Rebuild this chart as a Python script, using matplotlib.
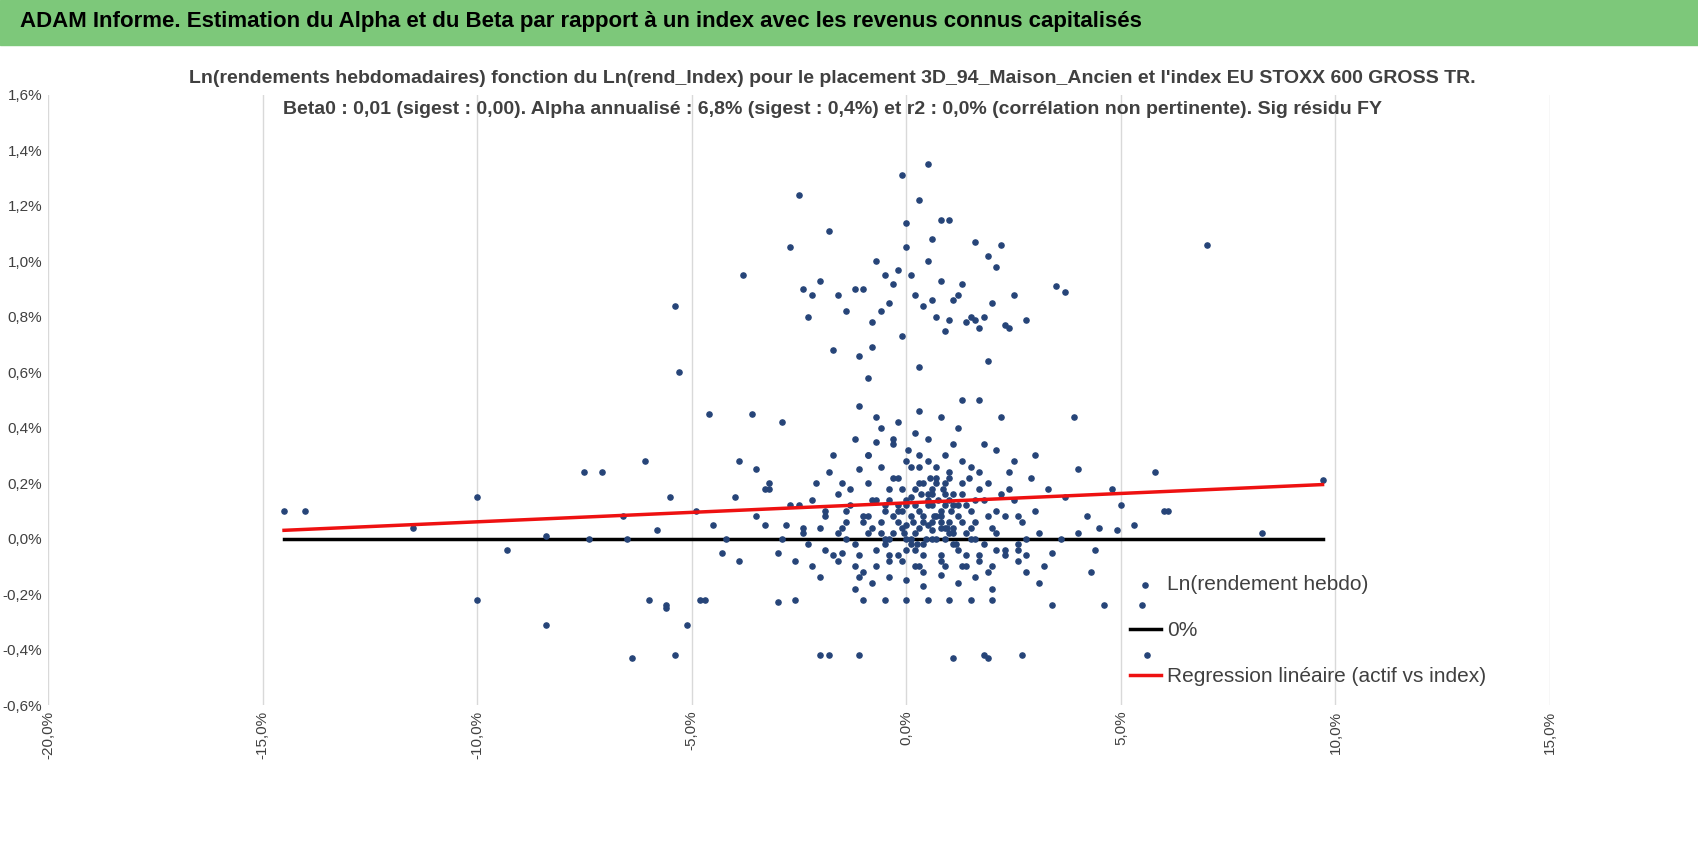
import numpy as np
import matplotlib.pyplot as plt
from matplotlib.patches import Rectangle

plt.rcParams['font.family'] = ['Liberation Sans', 'DejaVu Sans']

# outlying points (x: index return %, y: asset return %)
out_x = [-14.5, -14.0, -11.5, -10.0, -10.0, -9.3, -8.4, -8.4, -7.5, -7.1, -7.4, -6.6, -6.5, -6.4, -6.1,
         -6.0, -5.8, -5.6, -5.6, -5.5, -5.4, -5.3, -5.4, -5.1, -4.9, -4.8, -4.7, -4.6, -4.5, -4.2,
         -4.0, -3.9, -3.8, -3.6, -3.5, -3.2, -3.0, -2.9, -2.7, -2.5, -2.4, -2.3, -2.2, -2.0, -1.8,
         -1.7, -1.6, -1.4, -1.2, -1.1, -1.0, -0.9, -0.8, -0.7, -0.5, -0.1, 0.0, 0.3, 0.5, 0.8,
         1.0, 1.6, 1.9, 2.2, 2.0, 2.5, 2.8, 3.5, 3.7, 3.9, 5.8, 7.0, 8.3, 9.7, 6.1,
         5.3, -1.8, -2.0, -1.1, 1.1, 1.8, 1.9, 2.7, 5.6, 4.6, 5.5, 3.4, 4.3, 4.8, 5.0,
         3.2, 4.0, 4.5, -3.3, -3.9, -2.6, 6.0, 4.9, 3.0, -4.3]
out_y = [0.10, 0.10, 0.04, 0.15, -0.22, -0.04, 0.01, -0.31, 0.24, 0.24, 0.00, 0.08, 0.00, -0.43, 0.28,
         -0.22, 0.03, -0.24, -0.25, 0.15, 0.84, 0.60, -0.42, -0.31, 0.10, -0.22, -0.22, 0.45, 0.05, 0.00,
         0.15, 0.28, 0.95, 0.45, 0.25, 0.20, -0.23, 0.42, 1.05, 1.24, 0.90, 0.80, 0.88, 0.93, 1.11,
         0.68, 0.88, 0.82, 0.90, 0.66, 0.90, 0.58, 0.69, 1.00, 0.95, 1.31, 1.14, 1.22, 1.35, 1.15,
         1.15, 1.07, 1.02, 1.06, 0.85, 0.88, 0.79, 0.91, 0.89, 0.44, 0.24, 1.06, 0.02, 0.21, 0.10,
         0.05, -0.42, -0.42, -0.42, -0.43, -0.42, -0.43, -0.42, -0.42, -0.24, -0.24, -0.24, -0.12, 0.18, 0.12,
         -0.10, 0.25, 0.04, 0.05, -0.08, -0.22, 0.10, 0.03, 0.30, -0.05]

# upper band around 0.8-1.0 %
band_x = [-0.6, -0.4, -0.2, 0.1, 0.2, 0.4, 0.6, 0.7, 0.9, 1.2, 1.4, 1.5, 1.7, 2.3, -0.3, 0.0,
          0.5, 1.1, 1.3, 1.8, 2.1, -0.8, 0.3, 0.8, 1.6, 2.4, -0.1, 0.6, 1.0, 1.9]
band_y = [0.82, 0.85, 0.97, 0.95, 0.88, 0.84, 0.86, 0.80, 0.75, 0.88, 0.78, 0.80, 0.76, 0.77, 0.92, 1.05,
          1.00, 0.86, 0.92, 0.80, 0.98, 0.78, 0.62, 0.93, 0.79, 0.76, 0.73, 1.08, 0.79, 0.64]

# dense central cluster
core_x = [-2.8, -2.5, -2.3, -2.1, -1.9, -1.7, -1.5, -1.3, -1.1, -0.9, -0.7, -0.5, -0.3, -0.1, 0.1, 0.3,
          0.5, 0.7, 0.9, 1.1, 1.3, 1.5, 1.7, 1.9, 2.1, 2.3, 2.5, 2.7, 2.9, 3.1,
          -2.6, -2.2, -1.8, -1.4, -1.0, -0.6, -0.2, 0.2, 0.6, 1.0, 1.4, 1.8, 2.2, 2.6, 3.0,
          -2.4, -2.0, -1.6, -1.2, -0.8, -0.4, 0.0, 0.4, 0.8, 1.2, 1.6, 2.0, 2.4, 2.8,
          -1.9, -1.5, -1.1, -0.7, -0.3, 0.1, 0.5, 0.9, 1.3, 1.7, 2.1, 2.5,
          -1.3, -0.9, -0.5, -0.1, 0.3, 0.7, 1.1, 1.5, 1.9, -0.6, -0.2, 0.2, 0.6, 1.0, 1.4,
          -0.4, 0.0, 0.4, 0.8, 1.2, -3.5, -3.2, -3.0, -2.7, 3.4, 3.7, 4.0, 4.2, 3.3,
          -1.2, -0.8, -0.4, 0.0, 0.4, 0.8, 1.2, 1.6, 2.0, -1.0, -0.5, 0.0, 0.5, 1.0, 1.5, 2.0,
          -2.2, -1.7, -1.2, -0.7, -0.2, 0.3, 0.8, 1.3, 1.8, 2.3, 2.8, -0.9, -0.3, 0.3, 0.9, 1.5,
          -1.6, -1.0, -0.4, 0.2, 0.8, 1.4, 2.0, 2.6, -0.1, 0.4, 0.9, 0.6, 0.2, 0.7, 1.1, -0.5,
          -2.9, -2.4, -1.9, -1.4, -0.9, -0.4, 0.1, 0.6, 1.1, 1.6, 2.1, 2.6, 3.1, 3.6, -3.3, 4.4,
          -0.7, -0.2, 0.3, 0.8, 1.3, -1.1, -0.6, 1.7, 2.2, 0.0, 0.5, 1.0]
core_y = [0.05, 0.12, -0.02, 0.20, 0.08, 0.30, -0.05, 0.18, 0.25, 0.02, 0.35, 0.10, 0.22, -0.08, 0.15, 0.30,
          0.05, 0.20, -0.10, 0.12, 0.28, 0.00, 0.18, 0.08, 0.32, -0.04, 0.14, 0.06, 0.22, 0.02,
          -0.08, 0.14, 0.24, 0.10, -0.12, 0.26, 0.06, 0.38, 0.12, 0.22, -0.06, 0.34, 0.16, -0.02, 0.10,
          0.02, -0.14, 0.16, 0.36, 0.04, 0.18, 0.28, -0.02, 0.08, 0.40, 0.14, -0.10, 0.24, 0.00,
          0.10, 0.04, -0.06, 0.14, 0.02, 0.08, 0.12, 0.20, 0.06, -0.08, 0.10, 0.28,
          0.12, 0.20, -0.02, 0.04, 0.10, 0.00, 0.16, 0.04, 0.20, 0.06, 0.12, -0.04, 0.06, 0.02, 0.12,
          0.14, 0.00, 0.20, 0.04, 0.08, 0.08, 0.18, -0.05, 0.12, -0.05, 0.15, 0.02, 0.08, 0.18,
          -0.18, -0.16, -0.14, -0.15, -0.17, -0.13, -0.16, -0.14, -0.18, -0.22, -0.22, -0.22, -0.22, -0.22, -0.22, -0.22,
          -0.10, -0.06, -0.02, -0.10, -0.06, -0.10, -0.06, -0.10, -0.02, -0.06, -0.12, 0.30, 0.34, 0.26, 0.30, 0.26,
          0.02, 0.06, 0.00, 0.02, 0.06, 0.02, 0.04, 0.08, 0.10, 0.06, 0.04, 0.16, 0.18, 0.08, 0.04, 0.00,
          0.00, 0.04, -0.04, 0.00, 0.08, -0.06, -0.02, 0.00, -0.02, 0.00, -0.04, -0.08, -0.16, 0.00, 0.18, -0.04,
          0.44, 0.42, 0.46, 0.44, 0.50, 0.48, 0.40, 0.50, 0.44, 0.12, 0.16, 0.14]

# second layer of the dense cluster (heart around 0,5% / 0,07%)
heart_x = [-0.2, 0.0, 0.2, 0.4, 0.6, 0.8, 1.0, 1.2, -0.1, 0.1, 0.3, 0.5, 0.7, 0.9, 1.1, 1.3,
           -0.3, 0.0, 0.3, 0.6, 0.9, 1.2, 1.5, -0.5, -0.2, 0.1, 0.4, 0.7, 1.0, 1.3, 1.6,
           -0.8, -0.4, 0.2, 0.5, 0.8, 1.4, 1.8, -1.0, -0.6, 0.0, 0.4, 0.9, 1.7, 2.1, -1.4, -0.7,
           0.15, 0.45, 0.75, 1.05, 0.35, 0.65, 0.95, 0.25, 0.55, 0.85, -0.05, 1.15, 1.45, 0.05,
           -1.6, -1.2, -0.9, 1.9, 2.3, 2.6, -2.0, -1.5, 2.4, 2.8, -0.3, 0.5, 1.1, 1.7, -1.1]
heart_y = [0.10, 0.05, 0.12, 0.08, 0.03, 0.10, 0.06, 0.12, 0.18, 0.00, 0.20, 0.14, 0.22, 0.16, 0.02, 0.20,
           0.08, -0.04, 0.04, 0.18, 0.00, -0.04, 0.10, 0.12, 0.22, 0.26, -0.06, 0.26, 0.24, 0.16, 0.06,
           0.14, -0.08, -0.10, 0.28, -0.08, -0.10, 0.14, 0.08, 0.02, 0.14, -0.12, 0.12, 0.24, 0.02, 0.06, -0.04,
           0.06, 0.00, 0.14, 0.10, 0.16, 0.08, 0.04, -0.02, 0.22, 0.18, 0.02, -0.02, 0.22, 0.32,
           -0.08, -0.10, 0.30, -0.12, 0.08, -0.04, 0.04, 0.20, 0.18, -0.06, 0.36, 0.36, 0.34, -0.06, -0.14]

pts_x = np.array(out_x + band_x + core_x + heart_x) / 100
pts_y = np.array(out_y + band_y + core_y + heart_y) / 100

reg_x = [-0.145, 0.097]
reg_y = [0.0003, 0.00195]

fig = plt.figure(figsize=(16.98, 8.55), dpi=100)
fig.patches.append(Rectangle((0, 1 - 45 / 855), 1, 45 / 855, transform=fig.transFigure,
                             color='#7dc87a', zorder=0))
fig.text(0.012, 1 - 22 / 855, "ADAM Informe. Estimation du Alpha et du Beta par rapport à un index avec les revenus connus capitalisés",
         fontsize=16, fontweight='bold', va='center')
fig.text(0.49, 1 - 78 / 855, "Ln(rendements hebdomadaires) fonction du Ln(rend_Index) pour le placement 3D_94_Maison_Ancien et l'index EU STOXX 600 GROSS TR.",
         fontsize=14, ha='center', va='center', color='#404040', fontweight='semibold')
fig.text(0.49, 1 - 110 / 855, "Beta0 : 0,01 (sigest : 0,00). Alpha annualisé : 6,8% (sigest : 0,4%) et r2 : 0,0% (corrélation non pertinente). Sig résidu FY",
         fontsize=14, ha='center', va='center', color='#404040', fontweight='semibold')

ax = fig.add_axes([48 / 1698, 1 - 705 / 855, 1502 / 1698, 610 / 855])
ax.scatter(pts_x, pts_y, s=14, color='#264478', label='Ln(rendement hebdo)', zorder=3)
ax.plot(reg_x, [0, 0], color='black', lw=2.5, label='0%', zorder=2)
ax.plot(reg_x, reg_y, color='#ee1111', lw=2.5, label='Regression linéaire (actif vs index)', zorder=4)


def pct(v):
    v = round(v * 100, 1) + 0.0
    return f"{v:.1f}%".replace('.', ',')


ax.set_xlim(-0.20, 0.15)
ax.set_ylim(-0.006, 0.016)
xt = [-0.20, -0.15, -0.10, -0.05, 0.0, 0.05, 0.10, 0.15]
ax.set_xticks(xt)
ax.set_xticklabels([pct(v) for v in xt], rotation=90, fontsize=11, color='#404040')
yt = [-0.006, -0.004, -0.002, 0.0, 0.002, 0.004, 0.006, 0.008, 0.010, 0.012, 0.014, 0.016]
ax.set_yticks(yt)
ax.set_yticklabels([pct(v) for v in yt], fontsize=11, color='#404040')
ax.grid(axis='x', color='#d9d9d9', lw=1)
ax.tick_params(length=0, pad=4)
for s in ax.spines.values():
    s.set_visible(False)

ax.legend(loc='lower right', bbox_to_anchor=(0.97, 0.0), frameon=False, fontsize=15,
          scatterpoints=1, labelspacing=1.3, handlelength=1.5, handletextpad=0.3,
          labelcolor='#404040')

fig.savefig('out.png')
